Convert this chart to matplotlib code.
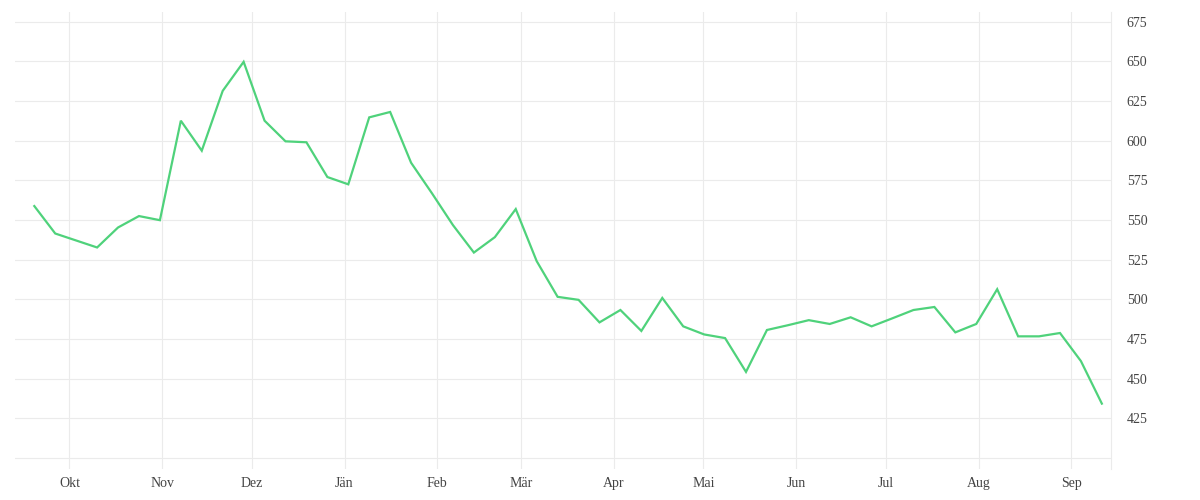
import matplotlib
matplotlib.use("Agg")
import matplotlib.pyplot as plt
import matplotlib.dates as mdates
import numpy as np
from datetime import datetime, timedelta

# Weekly data
start_date = datetime(2018, 9, 19, 6)
values = [558.7, 541.4, 537.0, 532.6, 545.2, 552.4, 549.8, 612.5, 593.6, 631.3,
          649.6, 612.5, 599.5, 598.9, 577.0, 572.4, 614.6, 618.0, 586.0, 566.7,
          546.7, 529.4, 539.1, 556.8, 524.0, 501.5, 499.6, 485.4, 493.2, 480.0,
          500.8, 482.9, 477.8, 475.5, 454.2, 480.6, 483.6, 486.8, 484.4, 488.6,
          482.9, 488.0, 493.2, 495.1, 479.1, 484.4, 506.3, 476.6, 476.6, 478.7,
          461.0, 434.2]
dates = [start_date + timedelta(days=7 * i) for i in range(len(values))]

month_ticks = [datetime(2018, 10, 1), datetime(2018, 11, 1), datetime(2018, 12, 1),
               datetime(2019, 1, 1), datetime(2019, 2, 1), datetime(2019, 3, 1),
               datetime(2019, 4, 1), datetime(2019, 5, 1), datetime(2019, 6, 1),
               datetime(2019, 7, 1), datetime(2019, 8, 1), datetime(2019, 9, 1)]
month_labels = ["Okt", "Nov", "Dez", "Jän", "Feb", "Mär", "Apr", "Mai", "Jun",
                "Jul", "Aug", "Sep"]
y_ticks = [400, 425, 450, 475, 500, 525, 550, 575, 600, 625, 650, 675]
y_labels = ["", "425", "450", "475", "500", "525", "550", "575", "600", "625", "650", "675"]

plt.rcParams['font.family'] = ['Liberation Serif', 'DejaVu Serif']

fig = plt.figure(figsize=(12, 5), dpi=100)
ax = fig.add_axes([15 / 1200, 1 - 469 / 500, (1110.7 - 15) / 1200, (469 - 12) / 500])

grid_color = "#ebebeb"
ax.plot(dates, values, color="#4fd27b", linewidth=1.6, solid_joinstyle="miter", zorder=3)

ax.set_xlim(datetime(2018, 9, 12, 19), datetime(2019, 9, 14, 5))
ax.set_ylim(393, 681)

ax.set_xticks(month_ticks)
ax.set_xticklabels(month_labels)
ax.set_yticks(y_ticks)
ax.set_yticklabels(y_labels)

ax.yaxis.tick_right()
ax.tick_params(axis="both", length=0, labelsize=10, labelcolor="#444444")
ax.tick_params(axis="y", pad=11.5)
ax.tick_params(axis="x", pad=6)

ax.grid(True, color=grid_color, linewidth=0.8)
ax.set_axisbelow(True)

for s in ["left", "top", "bottom"]:
    ax.spines[s].set_visible(False)
ax.spines["right"].set_color(grid_color)
ax.spines["right"].set_linewidth(0.8)

fig.savefig("out.png", dpi=100, facecolor="white")
